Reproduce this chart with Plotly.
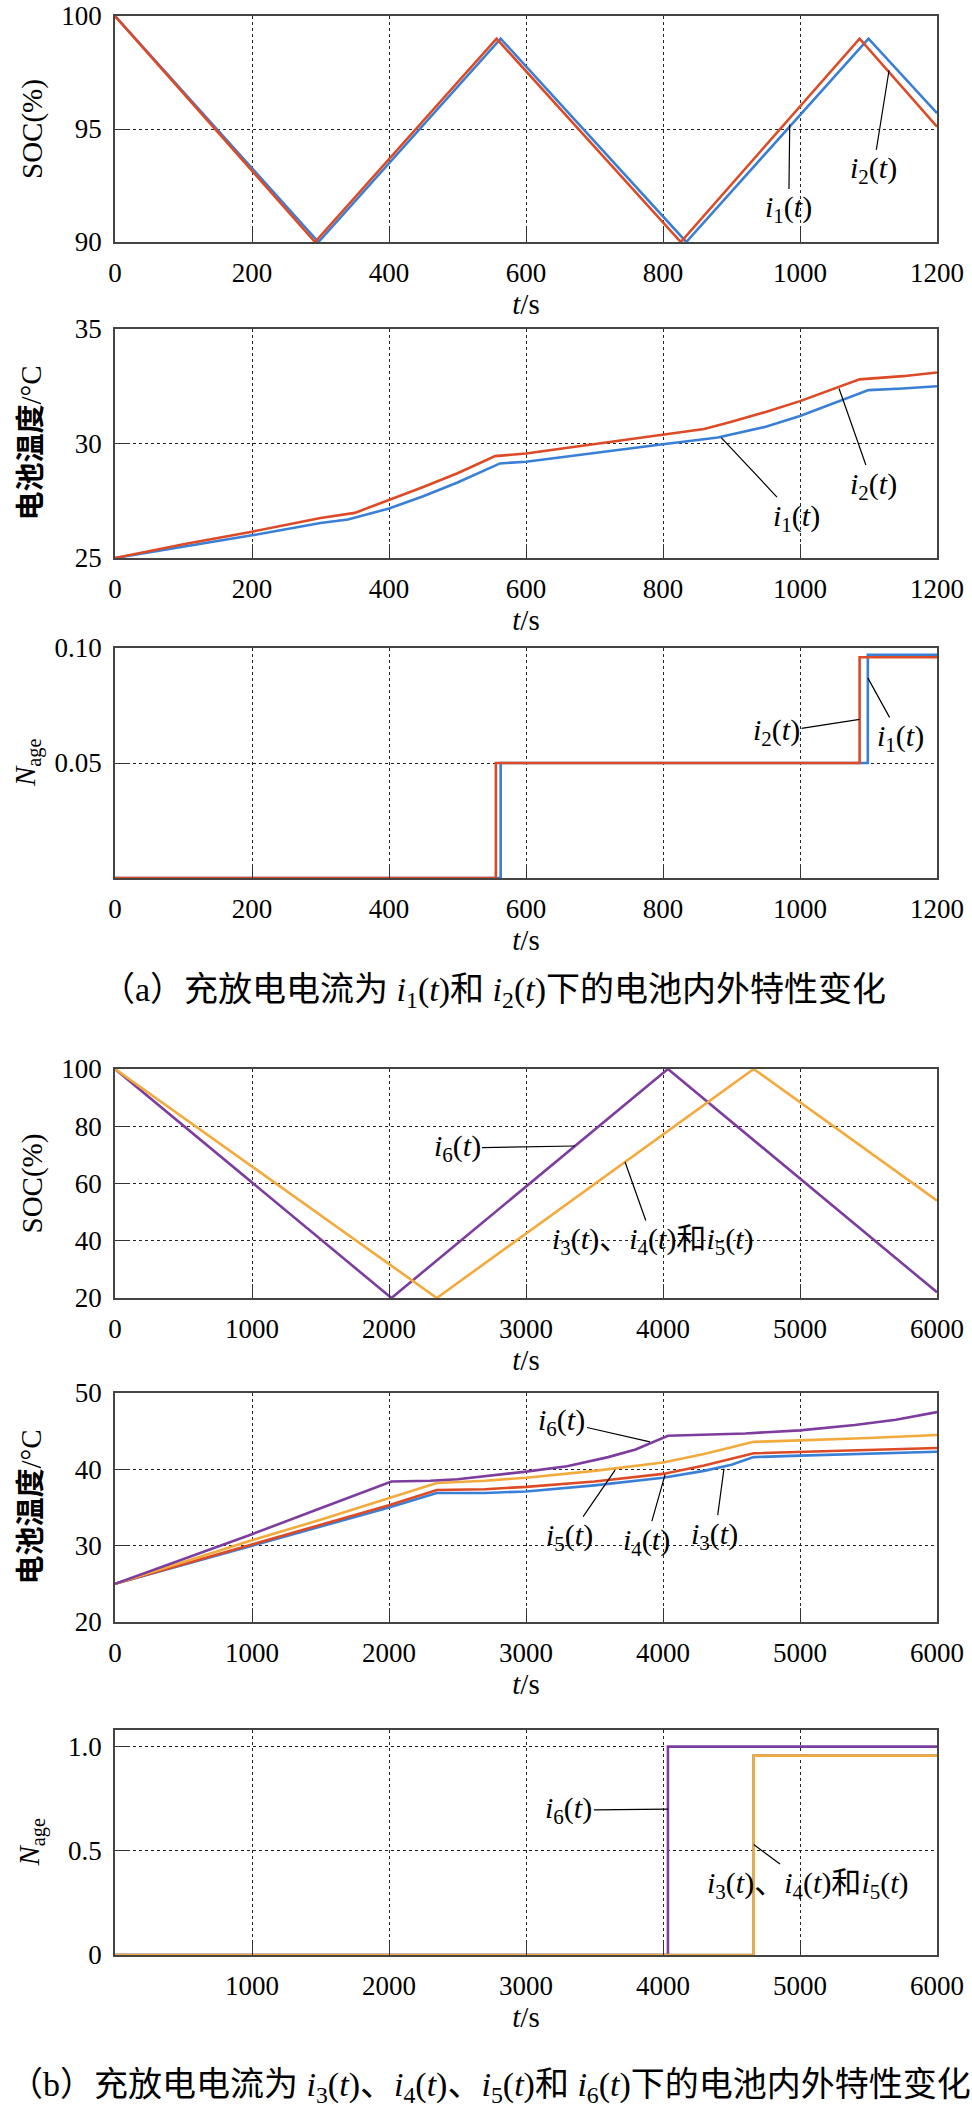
import plotly.graph_objects as go

# ---- data ----
# (a) SOC, i1 blue / i2 red
soc_a_t1 = [0, 297, 563, 834, 1100, 1200]
soc_a_i1 = [100, 90, 99, 90, 99, 95.7]
soc_a_t2 = [0, 292, 557, 826, 1087, 1200]
soc_a_i2 = [100, 90, 99, 90, 99, 95.1]

# (a) battery temperature
temp_a_t1 = [0, 100, 200, 300, 340, 400, 450, 500, 562, 600, 700, 800, 880, 950, 1000, 1050, 1100, 1150, 1200]
temp_a_i1 = [25, 25.5, 25.99, 26.53, 26.68, 27.16, 27.7, 28.3, 29.13, 29.2, 29.6, 29.97, 30.26, 30.73, 31.2, 31.75, 32.33, 32.4, 32.5]
temp_a_t2 = [0, 100, 200, 300, 350, 400, 450, 500, 555, 600, 700, 800, 860, 900, 950, 1000, 1050, 1087, 1150, 1200]
temp_a_i2 = [25, 25.6, 26.15, 26.75, 26.97, 27.52, 28.1, 28.7, 29.45, 29.56, 29.97, 30.41, 30.63, 30.95, 31.38, 31.85, 32.4, 32.8, 32.94, 33.1]

# (a) N_age (step)
age_a_t1 = [0, 563, 563, 1099, 1099, 1200]
age_a_i1 = [0, 0, 0.05, 0.05, 0.097, 0.097]
age_a_t2 = [0, 556, 556, 1087, 1087, 1200]
age_a_i2 = [0, 0, 0.05, 0.05, 0.096, 0.096]

# (b) SOC, i3/i4/i5 orange, i6 purple
soc_b_t35 = [0, 2349, 4662, 6000]
soc_b_i35 = [100, 20, 100, 54.0]
soc_b_t6 = [0, 2018, 4036, 6000]
soc_b_i6 = [100, 20, 100, 22.0]

# (b) battery temperature
temp_b_t3 = [0, 1000, 2000, 2349, 2700, 3000, 3500, 4000, 4300, 4500, 4662, 5000, 6000]
temp_b_i3 = [25, 30.0, 35.0, 36.9, 36.9, 37.1, 37.9, 38.9, 39.8, 40.6, 41.6, 41.8, 42.3]
temp_b_t4 = [0, 1000, 2000, 2349, 2700, 3000, 3500, 4000, 4300, 4662, 5000, 6000]
temp_b_i4 = [25, 30.2, 35.3, 37.3, 37.4, 37.7, 38.4, 39.4, 40.5, 42.1, 42.3, 42.8]
temp_b_t5 = [0, 500, 1000, 1500, 2000, 2349, 2700, 3000, 3500, 4000, 4300, 4662, 5000, 5500, 6000]
temp_b_i5 = [25, 27.9, 30.7, 33.4, 36.2, 38.2, 38.5, 38.9, 39.8, 40.9, 42.0, 43.6, 43.8, 44.1, 44.5]
temp_b_t6 = [0, 500, 1000, 1500, 2018, 2300, 2500, 3000, 3300, 3600, 3800, 4036, 4300, 4600, 5000, 5400, 5700, 6000]
temp_b_i6 = [25, 28.2, 31.5, 34.9, 38.4, 38.5, 38.7, 39.7, 40.4, 41.6, 42.6, 44.4, 44.5, 44.7, 45.1, 45.8, 46.5, 47.5]

# (b) N_age (step)
age_b_t35 = [0, 4662, 4662, 6000]
age_b_i35 = [0, 0, 0.957, 0.957]
age_b_t6 = [0, 4036, 4036, 6000]
age_b_i6 = [0, 0, 1.0, 1.0]

xticks_a = [0, 200, 400, 600, 800, 1000, 1200]
xticks_b = [0, 1000, 2000, 3000, 4000, 5000, 6000]
xticks_b6 = [1000, 2000, 3000, 4000, 5000, 6000]

BLUE = '#3a7fd6'
RED = '#dc4a26'
PURPLE = '#7d3d9e'
ORANGE = '#f3aa3c'

W, H = 972, 2107
SERIF = 'Times New Roman'
MIXED = 'Times New Roman, Noto Sans CJK SC'


def py(p):
    return 1 - p / H


# panel pixel boxes (top, bottom)
boxes = [(16, 242), (329, 558), (648, 878), (1069, 1298), (1393, 1622), (1730, 1955)]

fig = go.Figure()


def add(n, x, y, color):
    fig.add_trace(go.Scatter(x=x, y=y, mode='lines', line=dict(color=color, width=2.6),
                             xaxis='x' if n == 1 else f'x{n}', yaxis='y' if n == 1 else f'y{n}',
                             showlegend=False, hoverinfo='skip'))


add(1, soc_a_t1, soc_a_i1, BLUE)
add(1, soc_a_t2, soc_a_i2, RED)
add(2, temp_a_t1, temp_a_i1, BLUE)
add(2, temp_a_t2, temp_a_i2, RED)
add(3, age_a_t1, age_a_i1, BLUE)
add(3, age_a_t2, age_a_i2, RED)
add(4, soc_b_t6, soc_b_i6, PURPLE)
add(4, soc_b_t35, soc_b_i35, ORANGE)
add(5, temp_b_t3, temp_b_i3, BLUE)
add(5, temp_b_t4, temp_b_i4, RED)
add(5, temp_b_t5, temp_b_i5, ORANGE)
add(5, temp_b_t6, temp_b_i6, PURPLE)
add(6, age_b_t35, age_b_i35, BLUE)
add(6, age_b_t6, age_b_i6, PURPLE)
add(6, age_b_t35, age_b_i35, ORANGE)

axis_style = dict(showline=True, linecolor='#444', linewidth=1.5, mirror=True,
                  ticks='inside', ticklen=14, tickcolor='#333', tickwidth=1.2,
                  showgrid=True, gridcolor='#222', griddash='dot', gridwidth=1,
                  zeroline=False, ticklabelstandoff=6, automargin=False,
                  ticklabeloverflow='allow',
                  tickfont=dict(family=SERIF, size=27, color='black'))

xdom = [115 / W, 937 / W]
yranges = [[90, 100], [25, 35], [0, 0.1], [20, 100], [20, 50], [0, 1.08]]
ytickvals = [[90, 95, 100], [25, 30, 35], [0.05, 0.1], [20, 40, 60, 80, 100], [20, 30, 40, 50], [0, 0.5, 1.0]]
yticktext = [None, None, ['0.05', '0.10'], None, None, ['0', '0.5', '1.0']]
xranges = [[0, 1200]] * 3 + [[0, 6000]] * 3
xtickvals = [xticks_a] * 3 + [xticks_b, xticks_b, xticks_b6]

layout = {}
for i in range(6):
    n = i + 1
    xs = 'xaxis' if n == 1 else f'xaxis{n}'
    ys = 'yaxis' if n == 1 else f'yaxis{n}'
    xa = 'x' if n == 1 else f'x{n}'
    ya = 'y' if n == 1 else f'y{n}'
    top, bot = boxes[i]
    layout[xs] = dict(axis_style, domain=xdom, anchor=ya, range=xranges[i],
                      tickvals=xtickvals[i],
                      title=dict(text='<i>t</i>/s', standoff=6,
                                 font=dict(family=SERIF, size=29, color='black')))
    yd = dict(axis_style, domain=[py(bot), py(top)], anchor=xa, range=yranges[i],
              tickvals=ytickvals[i])
    if yticktext[i]:
        yd['ticktext'] = yticktext[i]
    layout[ys] = yd

fig.update_layout(**layout)

ytitles = ['SOC(%)', '<b>电池温度</b>/°C', '<i>N</i><sub>age</sub>',
           'SOC(%)', '<b>电池温度</b>/°C', '<i>N</i><sub>age</sub>']
ytitle_x = [32, 30, 27, 32, 30, 31]
for i, t in enumerate(ytitles):
    n = i + 1
    fig.add_annotation(text=t, textangle=-90, xref='paper', x=ytitle_x[i] / W,
                       yref=('y' if n == 1 else f'y{n}') + ' domain', y=0.5,
                       showarrow=False, xanchor='center', yanchor='middle',
                       font=dict(family=MIXED, size=29, color='black'))


def lab(n, x, y, text, ax, ay):
    fig.add_annotation(x=x, y=y, xref='x' if n == 1 else f'x{n}', yref='y' if n == 1 else f'y{n}',
                       text=text, showarrow=True, arrowhead=0, arrowwidth=1.2, arrowcolor='black',
                       ax=ax, ay=ay, standoff=0, startstandoff=0,
                       font=dict(family=MIXED, size=30, color='black'))


I1 = '<i>i</i><sub>1</sub>(<i>t</i>)'
I2 = '<i>i</i><sub>2</sub>(<i>t</i>)'
I3 = '<i>i</i><sub>3</sub>(<i>t</i>)'
I4 = '<i>i</i><sub>4</sub>(<i>t</i>)'
I5 = '<i>i</i><sub>5</sub>(<i>t</i>)'
I6 = '<i>i</i><sub>6</sub>(<i>t</i>)'
I345 = I3 + '、' + I4 + '和' + I5

lab(1, 985, 95.2, I1, -1, 85)
lab(1, 1130, 97.6, I2, -16, 100)
lab(2, 885, 30.26, I1, 75, 80)
lab(2, 1057, 32.4, I2, 34, 97)
lab(3, 1087, 0.069, I2, -83, 13)
lab(3, 1099, 0.087, I1, 33, 60)
lab(4, 3358, 73.1, I6, -118, 2)
lab(4, 3723, 67.5, I345, 28, 79)
lab(5, 3905, 43.6, I6, -88, -20)
lab(5, 3650, 39.9, I5, -46, 67)
lab(5, 4015, 39.3, I4, -19, 67)
lab(5, 4445, 40.1, I3, -9, 67)
lab(6, 4036, 0.70, I6, -99, 1)
lab(6, 4662, 0.53, I345, 54, 40)

cap_a = '（a）充放电电流为 ' + I1 + '和 ' + I2 + '下的电池内外特性变化'
cap_b = '（b）充放电电流为 ' + I3 + '、' + I4 + '、' + I5 + '和 ' + I6 + '下的电池内外特性变化'
fig.add_annotation(text=cap_a, xref='paper', yref='paper', x=494 / W, y=py(992),
                   showarrow=False, xanchor='center', yanchor='middle',
                   font=dict(family=MIXED, size=34, color='black'))
fig.add_annotation(text=cap_b, xref='paper', yref='paper', x=490 / W, y=py(2087),
                   showarrow=False, xanchor='center', yanchor='middle',
                   font=dict(family=MIXED, size=34, color='black'))

fig.update_layout(width=W, height=H, autosize=False, margin=dict(l=0, r=0, t=0, b=0),
                  paper_bgcolor='white', plot_bgcolor='white')

fig.write_html('out.html', config={'displayModeBar': False, 'responsive': False},
               post_script="document.body.style.margin='0';document.body.style.overflow='hidden';")
